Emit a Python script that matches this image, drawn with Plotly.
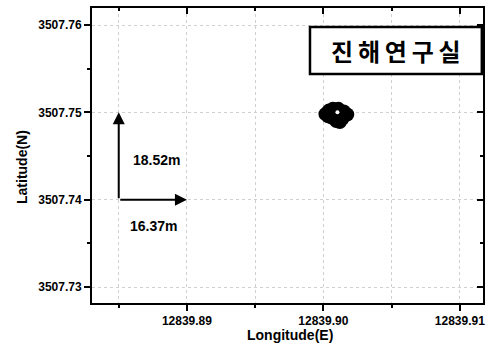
import plotly.graph_objects as go

# GPS fixes (cluster) and reference point
lon = [12839.90015, 12839.90040, 12839.90070, 12839.90110, 12839.90150, 12839.90175,
       12839.90060, 12839.90100, 12839.90140, 12839.90095, 12839.90120, 12839.90035,
       12839.90085, 12839.90130]
lat = [3507.74980, 3507.75020, 3507.75040, 3507.75040, 3507.75010, 3507.74975,
       3507.74940, 3507.74960, 3507.74930, 3507.74900, 3507.74890, 3507.74955,
       3507.75000, 3507.74990]
ref_lon = [12839.90103]
ref_lat = [3507.75000]

# scale bar
scale_lon = [12839.885, 12839.890]
scale_lat = [3507.740, 3507.750]
scale_labels = ["16.37m", "18.52m"]

title_text = "진해연구실"
x_title = "Longitude(E)"
y_title = "Latitude(N)"

x_range = [12839.88304, 12839.91170]
y_range = [3507.72817, 3507.76195]

FONT = "Liberation Sans, Arial, sans-serif"
GRID = "#d0d0d0"

fig = go.Figure()
fig.add_trace(go.Scatter(x=lon, y=lat, mode="markers",
                         marker=dict(color="black", size=14, line=dict(width=0)),
                         hoverinfo="skip", showlegend=False))
fig.add_trace(go.Scatter(x=ref_lon, y=ref_lat, mode="markers",
                         marker=dict(color="white", size=4, line=dict(width=0)),
                         hoverinfo="skip", showlegend=False))
# dummy trace for top/right mirrored inside ticks
fig.add_trace(go.Scatter(x=[None], y=[None], xaxis="x2", yaxis="y2",
                         showlegend=False, hoverinfo="skip"))

grid = dict(showgrid=True, gridcolor=GRID, gridwidth=1, griddash="dot")
fig.update_layout(
    width=486, height=358,
    margin=dict(l=92, r=3, t=8, b=55, autoexpand=False),
    paper_bgcolor="white", plot_bgcolor="white",
    font=dict(family=FONT, color="black"),
    xaxis=dict(range=x_range, tick0=12839.89, dtick=0.01, tickformat=".2f",
               ticks="outside", ticklen=6, tickwidth=1.5, tickcolor="black",
               showline=True, mirror=True, linecolor="black", linewidth=2, zeroline=False,
               tickfont=dict(family=FONT, size=12, color="black", weight="bold"),
               minor=dict(dtick=0.005, tick0=12839.885, ticks="outside", ticklen=3,
                          tickcolor="black", showgrid=True, gridcolor=GRID,
                          griddash="dot"),
               **grid),
    yaxis=dict(range=y_range, tick0=3507.73, dtick=0.01, tickformat=".2f",
               ticks="outside", ticklen=6, tickwidth=1.5, tickcolor="black",
               showline=True, mirror=True, linecolor="black", linewidth=2, zeroline=False,
               tickfont=dict(family=FONT, size=12, color="black", weight="bold"),
               minor=dict(dtick=0.005, tick0=3507.735, ticks="outside", ticklen=3,
                          tickcolor="black", showgrid=False),
               **grid),
    xaxis2=dict(range=x_range, overlaying="x", side="top", anchor="y2",
                tick0=12839.89, dtick=0.01, ticks="inside", ticklen=6, tickwidth=1.5,
                tickcolor="black", showticklabels=False, showgrid=False,
                showline=False, zeroline=False,
                minor=dict(dtick=0.005, tick0=12839.885, ticks="inside", ticklen=3,
                           tickcolor="black")),
    yaxis2=dict(range=y_range, overlaying="y", side="right", anchor="x2",
                tick0=3507.73, dtick=0.01, ticks="inside", ticklen=6, tickwidth=1.5,
                tickcolor="black", showticklabels=False, showgrid=False,
                showline=False, zeroline=False,
                minor=dict(dtick=0.005, tick0=3507.735, ticks="inside", ticklen=3,
                           tickcolor="black")),
)

# scale arrows
fig.add_annotation(x=scale_lon[0], y=scale_lat[1], ax=scale_lon[0], ay=scale_lat[0],
                   xref="x", yref="y", axref="x", ayref="y", text="", showarrow=True,
                   arrowhead=2, arrowsize=1.2, arrowwidth=2, arrowcolor="black")
fig.add_annotation(x=scale_lon[1], y=scale_lat[0], ax=scale_lon[0], ay=scale_lat[0],
                   xref="x", yref="y", axref="x", ayref="y", text="", showarrow=True,
                   arrowhead=2, arrowsize=1.2, arrowwidth=2, arrowcolor="black")
fig.add_annotation(x=scale_lon[0], y=(scale_lat[0] + scale_lat[1]) / 2,
                   xref="x", yref="y", text="<b>" + scale_labels[1] + "</b>",
                   showarrow=False, xanchor="left", xshift=12, yshift=-4,
                   font=dict(family=FONT, size=14, color="black"))
fig.add_annotation(x=scale_lon[0], y=scale_lat[0], xref="x", yref="y",
                   text="<b>" + scale_labels[0] + "</b>", showarrow=False,
                   xanchor="left", xshift=9, yshift=-26,
                   font=dict(family=FONT, size=14, color="black"))

# title box
bx0, bx1, by0, by1 = 0.5575, 0.997, 0.7763, 0.9356
fig.add_shape(type="rect", xref="paper", yref="paper", x0=bx0, x1=bx1,
              y0=by0, y1=by1, line=dict(color="black", width=2.5),
              fillcolor="white", layer="above")
fig.add_annotation(x=(bx0 + bx1) / 2, y=(by0 + by1) / 2, xref="paper",
                   yref="paper", text="<b>" + "\u2009".join(title_text) + "</b>",
                   showarrow=False, xanchor="center", yanchor="middle",
                   font=dict(family="Noto Sans CJK KR", size=24, color="black"))

# axis titles
fig.add_annotation(xref="paper", yref="paper", x=(290 - 92) / 391, y=(303 - 345) / 295,
                   text="<b>" + x_title + "</b>", showarrow=False,
                   font=dict(family=FONT, size=14))
fig.add_annotation(xref="paper", yref="paper", x=(12 - 92) / 391, y=(303 - 167) / 295,
                   text="<b>" + y_title + "</b>", textangle=-90, showarrow=False,
                   font=dict(family=FONT, size=14))

fig.write_html("out.html", config={"displayModeBar": False},
               post_script="document.body.style.margin='0';document.body.style.overflow='hidden';")
